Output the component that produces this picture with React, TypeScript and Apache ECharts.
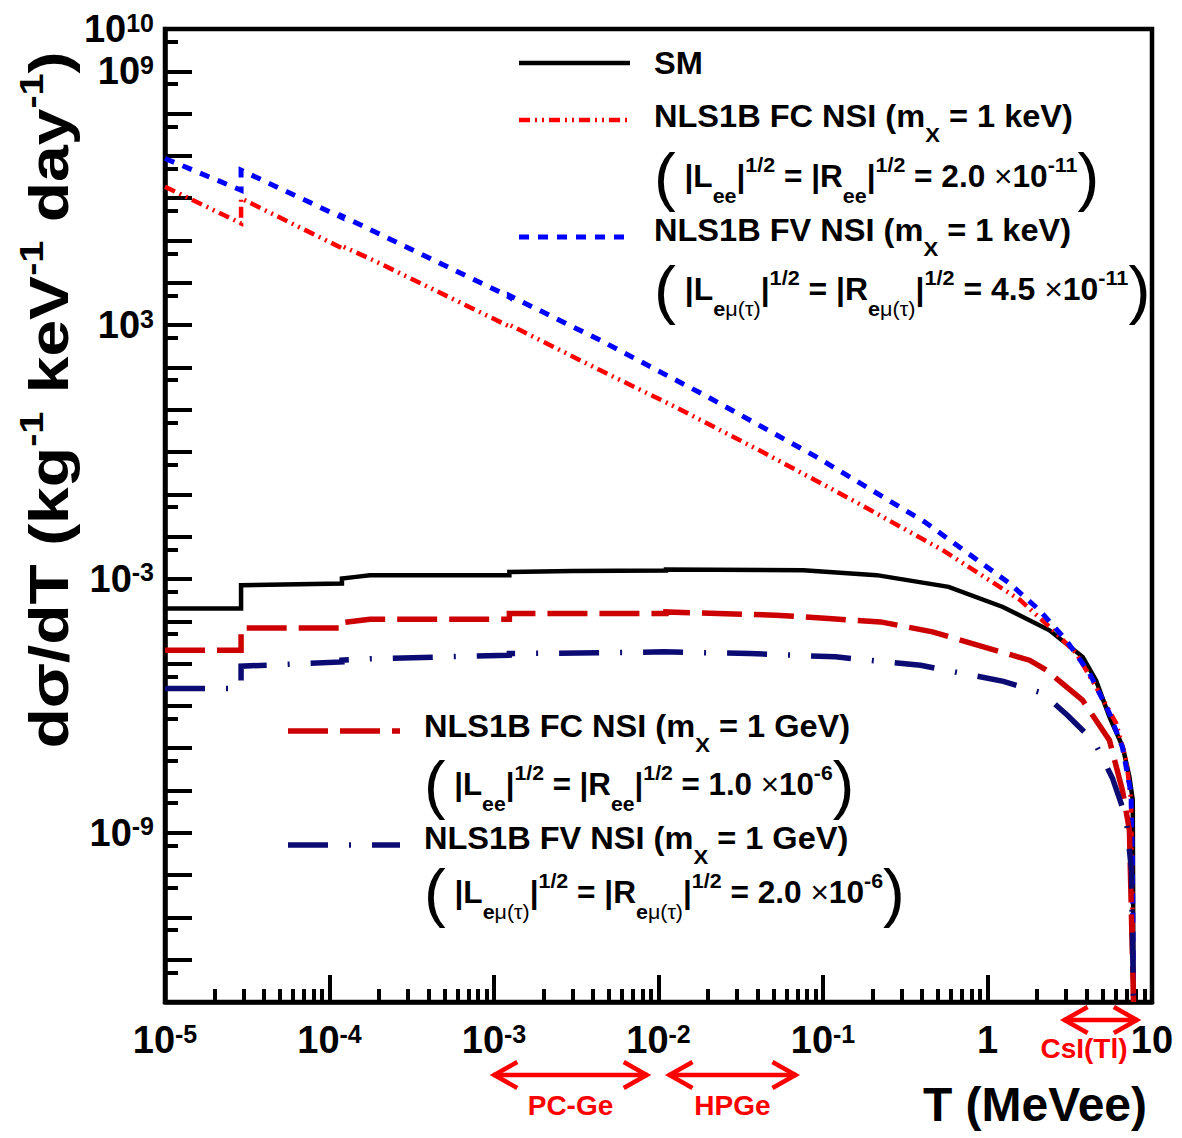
import React, { useEffect, useRef } from "react";
import * as echarts from "echarts";

const FONT = '"Liberation Sans", Arial, Helvetica, sans-serif';

// Differential cross sections dσ/dT (kg^-1 keV^-1 day^-1) against recoil energy T (MeVee)
const smCurve: [number, number][] = [
  [1e-5, 2.0e-4], [2.9e-5, 2.0e-4], [2.9e-5, 7.1e-4], [1.19e-4, 7.8e-4], [1.19e-4, 1.03e-3],
  [1.45e-4, 1.12e-3], [1.76e-4, 1.23e-3], [1.24e-3, 1.23e-3], [1.24e-3, 1.47e-3], [3.0e-3, 1.55e-3],
  [1.11e-2, 1.58e-3], [1.11e-2, 1.67e-3], [7.6e-2, 1.61e-3], [0.212, 1.23e-3], [0.58, 6.5e-4],
  [1.24, 2.18e-4], [2.38, 6.1e-5], [3.79, 1.44e-5], [4.57, 4.0e-6], [5.51, 5.5e-7],
  [6.64, 1.07e-7], [7.29, 2.1e-8], [7.64, 5.9e-9], [7.72, 1e-13],
];

const fcKeVCurve: [number, number][] = [
  [1e-5, 1.87e6], [2.9e-5, 2.54e5], [2.9e-5, 9.9e5], [1.19e-4, 6.6e4], [1.19e-4, 7.4e4],
  [1.84e-4, 3.44e4], [1.24e-3, 9.3e2], [1.24e-3, 1.02e3], [4.4e-3, 86.5], [1.2e-2, 12.9],
  [4.27e-2, 1.01], [0.151, 7.3e-2], [0.533, 4.8e-3], [1.58, 3.16e-4], [2.38, 7.4e-5],
  [3.46, 1.76e-5], [4.57, 2.8e-6], [6.05, 3.9e-7], [6.97, 5.2e-8], [7.46, 5.9e-9], [7.72, 1e-13],
];

const fvKeVCurve: [number, number][] = [
  [1e-5, 8.7e6], [2.9e-5, 1.55e6], [2.9e-5, 4.6e6], [1.19e-4, 3.5e5], [1.19e-4, 3.8e5],
  [1.19e-3, 5.1e3], [1.24e-3, 4.6e3], [1.24e-3, 5.0e3], [4.4e-3, 443], [1.99e-2, 20.2],
  [9.1e-2, 0.77], [0.414, 2.24e-2], [1.36, 7.9e-4], [2.07, 1.82e-4], [3.01, 3.56e-5],
  [4.17, 5.9e-6], [5.51, 6.7e-7], [6.61, 1.05e-7], [7.46, 8.6e-9], [7.6, 2.2e-10], [7.72, 1e-13],
];

const fcGeVCurve: [number, number][] = [
  [1e-5, 2.07e-5], [2.9e-5, 2.07e-5], [2.9e-5, 6.97e-5], [1.19e-4, 6.97e-5], [1.19e-4, 9.3e-5],
  [1.76e-4, 1.12e-4], [1.24e-3, 1.12e-4], [1.24e-3, 1.53e-4], [1.11e-2, 1.53e-4], [1.11e-2, 1.66e-4],
  [5.15e-2, 1.39e-4], [0.108, 1.16e-4], [0.224, 9.66e-5], [0.463, 5.6e-5], [0.946, 2.48e-5],
  [1.8, 1.2e-5], [2.28, 7.0e-6], [3.78, 1.36e-6], [5.51, 1.54e-7], [6.61, 1.01e-8],
  [7.29, 1.15e-9], [7.72, 1e-13],
];

const fvGeVCurve: [number, number][] = [
  [1e-5, 2.57e-6], [2.9e-5, 2.57e-6], [2.9e-5, 8.65e-6], [1.19e-4, 1.09e-5], [1.19e-4, 1.2e-5],
  [1.76e-4, 1.3e-5], [1.24e-3, 1.58e-5], [1.24e-3, 1.73e-5], [4.4e-3, 1.79e-5], [1.08e-2, 1.89e-5],
  [3.58e-2, 1.73e-5], [0.119, 1.44e-5], [0.392, 9.1e-6], [1.25, 3.8e-6], [2.16, 2.0e-6],
  [3.06, 6.0e-7], [4.47, 1.4e-7], [5.75, 1.95e-8], [6.97, 2.2e-9], [7.5, 1.3e-10], [7.72, 1e-13],
];

// Detector range annotations (MeVee)
const detectorNames = ["PC-Ge", "HPGe", "CsI(Tl)"];
const detectorFrom = [0.99e-3, 1.15e-2, 2.9];
const detectorTo = [8.6e-3, 6.9e-2, 8.2];

// Axis ranges and ticks
const X_MIN = 1e-5;
const X_MAX = 10;
const Y_MIN = 1e-13;
const Y_MAX = 1e10;
const xDecades = [-5, -4, -3, -2, -1, 0, 1];
const xMinorMultipliers = [2, 3, 4, 5, 6, 7, 8, 9];
const yDecades = [-13, -12, -11, -10, -9, -8, -7, -6, -5, -4, -3, -2, -1, 0, 1, 2, 3, 4, 5, 6, 7, 8, 9, 10];
const yLabelDecades = [-9, -3, 3, 9, 10];

const pow10 = (e: number) => parseFloat(`1e${e}`);
const xMajorTicks = xDecades.map(pow10);
const xMinorTicks: number[] = [];
xDecades.slice(0, -1).forEach((e) => xMinorMultipliers.forEach((m) => xMinorTicks.push(parseFloat(`${m}e${e}`))));
const yMajorTicks = yDecades.map(pow10);
const yMinorTicks = yDecades.slice(0, -1).map((e) => parseFloat(`5e${e}`));
const yLabelTicks = yLabelDecades.map(pow10);

const RED = "#ff0000";
const BLUE = "#0000ff";
const DARK_RED = "#cc0000";
const NAVY = "#0b0b73";

const DASH_FC_KEV = [11, 5, 2, 5, 2, 5];
const DASH_FV_KEV = [10, 9];
const DASH_FC_GEV = [40, 12];
const DASH_FV_GEV = [40, 21, 2, 21];

const W_SM = 4.5;
const W_FC_KEV = 4.5;
const W_FV_KEV = 5;
const W_GEV = 5.5;

const labelRich = {
  b: { fontFamily: FONT, fontWeight: "bold", fontSize: 38, lineHeight: 38, color: "#000" },
  s: { fontFamily: FONT, fontWeight: "bold", fontSize: 25, lineHeight: 16, verticalAlign: "top", color: "#000" },
  c: { fontFamily: FONT, fontWeight: "bold", fontSize: 38, lineHeight: 38, color: "#000" },
};

const powerLabel = (v: number) => {
  const e = Math.round(Math.log10(v));
  if (e === 0) return "{c|1}";
  return `{b|10}{s|${e}}`;
};

const legendRich = {
  n: { fontFamily: FONT, fontWeight: "bold", fontSize: 31, lineHeight: 64, fill: "#000" },
  sup: { fontFamily: FONT, fontWeight: "bold", fontSize: 21, lineHeight: 40, height: 40, verticalAlign: "top", fill: "#000" },
  sub: { fontFamily: FONT, fontWeight: "bold", fontSize: 21, lineHeight: 26, height: 26, verticalAlign: "bottom", fill: "#000" },
  subg: { fontFamily: FONT, fontWeight: "normal", fontSize: 21, lineHeight: 26, height: 26, verticalAlign: "bottom", fill: "#000" },
  x: { fontFamily: FONT, fontWeight: "normal", fontSize: 31, lineHeight: 64, fill: "#000" },
  p: { fontFamily: FONT, fontWeight: "normal", fontSize: 64, lineHeight: 64, fill: "#000" },
};

const couplingLine = (sub: string, value: string, exp: string) =>
  `{p|(}{n| |L}${sub}{n||}{sup|1/2}{n| = |R}${sub}{n||}{sup|1/2}{n| = ${value} }{x|×}{n|10}{sup|${exp}}{p|)}`;
const SUB_EE = "{sub|ee}";
const SUB_EMT = "{sub|e}{subg|μ(τ)}";

const legendRows = [
  { x: 654, y: 63, sx: 1.05, text: "{n|SM}" },
  { x: 654, y: 116, sx: 1.05, text: "{n|NLS1B FC NSI (m}{sub|X}{n| = 1 keV)}" },
  { x: 654, y: 177, sx: 1.02, text: couplingLine(SUB_EE, "2.0", "-11") },
  { x: 654, y: 230, sx: 1.05, text: "{n|NLS1B FV NSI (m}{sub|X}{n| = 1 keV)}" },
  { x: 654, y: 290, sx: 1.03, text: couplingLine(SUB_EMT, "4.5", "-11") },
  { x: 424, y: 726, sx: 1.05, text: "{n|NLS1B FC NSI (m}{sub|X}{n| = 1 GeV)}" },
  { x: 424, y: 785, sx: 1.01, text: couplingLine(SUB_EE, "1.0", "-6") },
  { x: 424, y: 838, sx: 1.05, text: "{n|NLS1B FV NSI (m}{sub|X}{n| = 1 GeV)}" },
  { x: 424, y: 893, sx: 1.02, text: couplingLine(SUB_EMT, "2.0", "-6") },
];

const legendSamples = [
  { x1: 519, x2: 630, y: 63, color: "#000", width: W_SM, dash: null as number[] | null },
  { x1: 519, x2: 630, y: 120, color: RED, width: W_FC_KEV, dash: DASH_FC_KEV },
  { x1: 519, x2: 630, y: 237, color: BLUE, width: W_FV_KEV, dash: DASH_FV_KEV },
  { x1: 288, x2: 400, y: 731, color: DARK_RED, width: W_GEV, dash: DASH_FC_GEV },
  { x1: 288, x2: 400, y: 845, color: NAVY, width: W_GEV, dash: DASH_FV_GEV },
];

const lineSeries = (name: string, data: [number, number][], color: string, width: number, dash: number[] | null) => ({
  name,
  type: "line",
  data,
  showSymbol: false,
  symbol: "none",
  silent: true,
  clip: true,
  lineStyle: { color, width, type: dash ?? "solid", cap: "butt", join: "miter" },
});

export default function App() {
  const ref = useRef<HTMLDivElement>(null);

  useEffect(() => {
    if (!ref.current) return;
    const chart = echarts.init(ref.current, null, { renderer: "svg" });

    const axisBase = {
      type: "log",
      logBase: 10,
      splitLine: { show: false },
      minorTick: { show: false },
      minorSplitLine: { show: false },
    };
    const tickLine = { color: "#000", width: 4 };

    chart.setOption({
      animation: false,
      backgroundColor: "#ffffff",
      textStyle: { fontFamily: FONT },
      grid: {
        left: 165,
        top: 29,
        width: 987,
        height: 973,
        show: true,
        borderColor: "#000",
        borderWidth: 4.5,
        backgroundColor: "transparent",
      },
      xAxis: [
        {
          ...axisBase,
          min: X_MIN,
          max: X_MAX,
          position: "bottom",
          axisLine: { show: true, lineStyle: { color: "#000", width: 4.5 } },
          axisTick: { show: true, inside: true, length: 27, lineStyle: tickLine, customValues: xMajorTicks },
          axisLabel: {
            show: true,
            margin: 19,
            customValues: xMajorTicks,
            formatter: (v: number) => {
              const e = Math.round(Math.log10(v));
              if (e === 0) return "{c|1}";
              if (e === 1) return "{c|10}";
              return `{b|10}{s|${e}}`;
            },
            rich: labelRich,
          },
        },
        {
          ...axisBase,
          min: X_MIN,
          max: X_MAX,
          position: "bottom",
          axisLine: { show: false },
          axisTick: { show: true, inside: true, length: 13, lineStyle: tickLine, customValues: xMinorTicks },
          axisLabel: { show: false },
        },
      ],
      yAxis: [
        {
          ...axisBase,
          min: Y_MIN,
          max: Y_MAX,
          position: "left",
          axisLine: { show: true, lineStyle: { color: "#000", width: 4.5 } },
          axisTick: { show: true, inside: true, length: 27, lineStyle: tickLine, customValues: yMajorTicks },
          axisLabel: {
            show: true,
            margin: 11,
            customValues: yLabelTicks,
            formatter: powerLabel,
            rich: labelRich,
          },
        },
        {
          ...axisBase,
          min: Y_MIN,
          max: Y_MAX,
          position: "left",
          axisLine: { show: false },
          axisTick: { show: true, inside: true, length: 13, lineStyle: tickLine, customValues: yMinorTicks },
          axisLabel: { show: false },
        },
      ],
      series: [
        lineSeries("SM", smCurve, "#000", W_SM, null),
        lineSeries("NLS1B FC NSI (1 keV)", fcKeVCurve, RED, W_FC_KEV, DASH_FC_KEV),
        lineSeries("NLS1B FV NSI (1 keV)", fvKeVCurve, BLUE, W_FV_KEV, DASH_FV_KEV),
        lineSeries("NLS1B FC NSI (1 GeV)", fcGeVCurve, DARK_RED, W_GEV, DASH_FC_GEV),
        lineSeries("NLS1B FV NSI (1 GeV)", fvGeVCurve, NAVY, W_GEV, DASH_FV_GEV),
      ],
    });

    const graphics: any[] = [];

    // Axis titles
    graphics.push({
      type: "text",
      x: 49,
      y: 400,
      rotation: Math.PI / 2,
      scaleX: 1.2,
      style: {
        text: "{t|dσ/dT (kg}{u|-1}{t| keV}{u|-1}{t| day}{u|-1}{t|)}",
        align: "center",
        verticalAlign: "middle",
        rich: {
          t: { fontFamily: FONT, fontWeight: "bold", fontSize: 55, lineHeight: 66, fill: "#000" },
          u: { fontFamily: FONT, fontWeight: "bold", fontSize: 33, lineHeight: 32, height: 32, verticalAlign: "top", fill: "#000" },
        },
      },
    });
    graphics.push({
      type: "text",
      x: 1147,
      y: 1104,
      style: {
        text: "T (MeVee)",
        fontFamily: FONT,
        fontWeight: "bold",
        fontSize: 48,
        fill: "#000",
        align: "right",
        verticalAlign: "middle",
      },
    });

    // Legend samples and entries
    legendSamples.forEach((s) => {
      graphics.push({
        type: "line",
        shape: { x1: s.x1, y1: s.y, x2: s.x2, y2: s.y },
        style: { stroke: s.color, lineWidth: s.width, lineDash: s.dash ?? undefined, lineCap: "butt" },
      });
    });
    legendRows.forEach((r) => {
      graphics.push({
        type: "text",
        x: r.x,
        y: r.y,
        scaleX: r.sx,
        style: { text: r.text, rich: legendRich, align: "left", verticalAlign: "middle" },
      });
    });

    // Detector range arrows below the energy axis
    const arrowRowY = [1075, 1075, 1020];
    const labelRowY = [1105, 1105, 1048];
    const labelCenterX = [null, null, 1084];
    detectorNames.forEach((name, i) => {
      const x1 = chart.convertToPixel({ xAxisIndex: 0 }, detectorFrom[i]) as number;
      const x2 = chart.convertToPixel({ xAxisIndex: 0 }, detectorTo[i]) as number;
      const y = arrowRowY[i];
      const hw = 24;
      const hh = 13;
      const st = { stroke: RED, lineWidth: 4.5, fill: null };
      graphics.push({ type: "line", shape: { x1, y1: y, x2, y2: y }, style: st });
      graphics.push({ type: "polyline", shape: { points: [[x1 + hw, y - hh], [x1 + 1, y], [x1 + hw, y + hh]] }, style: st });
      graphics.push({ type: "polyline", shape: { points: [[x2 - hw, y - hh], [x2 - 1, y], [x2 - hw, y + hh]] }, style: st });
      graphics.push({
        type: "text",
        x: labelCenterX[i] ?? (x1 + x2) / 2,
        y: labelRowY[i],
        style: {
          text: name,
          fontFamily: FONT,
          fontWeight: "bold",
          fontSize: 28,
          fill: RED,
          align: "center",
          verticalAlign: "middle",
        },
      });
    });

    chart.setOption({ graphic: graphics });

    return () => chart.dispose();
  }, []);

  return (
    <div
      ref={ref}
      style={{ position: "absolute", left: 0, top: 0, width: 1182, height: 1138, background: "#fff" }}
    />
  );
}
